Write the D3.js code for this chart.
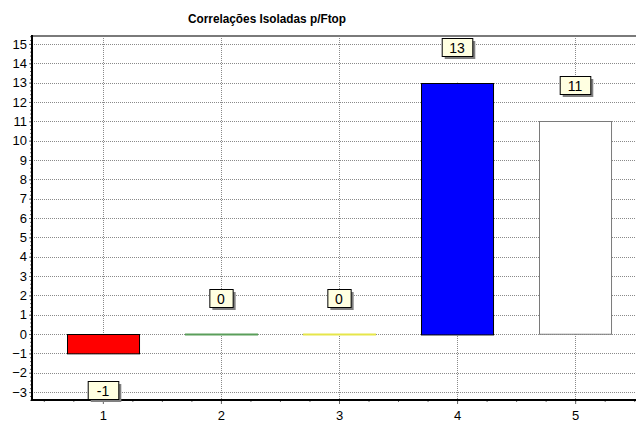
<!DOCTYPE html>
<html>
<head>
<meta charset="utf-8">
<script src="https://cdn.jsdelivr.net/npm/d3@7"></script>
<style>
  body { margin: 0; background: #fff; }
  text { font-family: Arial, "Liberation Sans", sans-serif; }
</style>
</head>
<body>
<script>
// chart data
var categories = [1, 2, 3, 4, 5];
var values = [-1, 0, 0, 13, 11];
var yTicks = d3.range(-3, 16);
var title = "Correlações Isoladas p/Ftop";

// bar styles
var barFill = ["#ff0000", "#5a9e5a", "#e6e64a", "#0000ff", "#ffffff"];
var barStroke = ["#000000", "#5a9e5a", "#e6e64a", "#000000", "#7a7a7a"];

var svgWidth = 636;
var svgHeight = 423;

var plot = { left: 32, top: 36, right: 646, bottom: 400 };

var svg = d3.select("body")
    .append("svg")
    .attr("width", svgWidth)
    .attr("height", svgHeight);

var xScale = d3.scaleLinear()
    .domain([0.4, 5.6])
    .range([plot.left, plot.right]);

var yScale = d3.scaleLinear()
    .domain([-3.41, 15.41])
    .range([plot.bottom, plot.top]);

// title
svg.append("text")
    .attr("x", 267)
    .attr("y", 23)
    .attr("text-anchor", "middle")
    .attr("font-size", 12)
    .attr("font-weight", "bold")
    .attr("textLength", 158)
    .attr("lengthAdjust", "spacingAndGlyphs")
    .text(title);

// gridlines
svg.append("g").selectAll("line")
    .data(yTicks)
    .enter().append("line")
    .attr("x1", plot.left)
    .attr("x2", svgWidth)
    .attr("y1", d => Math.round(yScale(d)) + 0.5)
    .attr("y2", d => Math.round(yScale(d)) + 0.5)
    .attr("stroke", "#8a8a8a")
    .attr("stroke-dasharray", "1,1");

svg.append("g").selectAll("line")
    .data(categories)
    .enter().append("line")
    .attr("x1", d => Math.round(xScale(d)) + 0.5)
    .attr("x2", d => Math.round(xScale(d)) + 0.5)
    .attr("y1", plot.top)
    .attr("y2", plot.bottom)
    .attr("stroke", "#8a8a8a")
    .attr("stroke-dasharray", "1,1");

// top border
svg.append("line")
    .attr("x1", plot.left).attr("x2", svgWidth)
    .attr("y1", plot.top).attr("y2", plot.top)
    .attr("stroke", "#7a7a7a")
    .attr("stroke-width", 2);

var barW = 0.61;

// white leader lines from bar to label
function labelY(v) {
    return v < 0 ? yScale(v) + 37 : yScale(v) - 36;
}

svg.append("g").selectAll("line")
    .data(values)
    .enter().append("line")
    .attr("x1", (d, i) => Math.round(xScale(categories[i])) + 0.5)
    .attr("x2", (d, i) => Math.round(xScale(categories[i])) + 0.5)
    .attr("y1", d => yScale(d))
    .attr("y2", d => labelY(d))
    .attr("stroke", "#ffffff");

var bars = values.map((v, i) => ({ cat: categories[i], v: v, i: i }));

// bars with a height
svg.append("g").selectAll("rect")
    .data(bars.filter(b => b.v !== 0))
    .enter().append("rect")
    .attr("x", b => Math.round(xScale(b.cat - barW / 2)) + 0.5)
    .attr("width", xScale(barW) - xScale(0))
    .attr("y", b => Math.round(yScale(Math.max(0, b.v))) + 0.5)
    .attr("height", b => Math.abs(yScale(b.v) - yScale(0)))
    .attr("fill", b => barFill[b.i])
    .attr("stroke", b => barStroke[b.i]);

// zero bars collapse to a flat line
svg.append("g").selectAll("line")
    .data(bars.filter(b => b.v === 0))
    .enter().append("line")
    .attr("x1", b => Math.round(xScale(b.cat - barW / 2)))
    .attr("x2", b => Math.round(xScale(b.cat + barW / 2)) + 1)
    .attr("y1", b => Math.round(yScale(0)) + 0.5)
    .attr("y2", b => Math.round(yScale(0)) + 0.5)
    .attr("stroke", b => barStroke[b.i])
    .attr("stroke-width", 2);

// axes
var leftAxis = d3.axisLeft(yScale).tickValues(yTicks).tickSize(3).tickPadding(2);
var leftMinor = d3.axisLeft(yScale)
    .tickValues(d3.range(-17, 78).map(d => d / 5))
    .tickSize(2).tickFormat("");

var bottomAxis = d3.axisBottom(xScale).tickValues(categories)
    .tickFormat(d3.format("d")).tickSize(4).tickPadding(7);
var bottomMinor = d3.axisBottom(xScale)
    .tickValues(d3.range(2, 23).map(d => d / 4))
    .tickSize(2).tickFormat("");

svg.append("g")
    .attr("transform", `translate(${plot.left}, 0)`)
    .call(leftAxis);
svg.append("g")
    .attr("transform", `translate(${plot.left}, 0)`)
    .call(leftMinor);

svg.append("g")
    .attr("transform", `translate(0, ${plot.bottom})`)
    .call(bottomAxis);
svg.append("g")
    .attr("transform", `translate(0, ${plot.bottom})`)
    .call(bottomMinor);

svg.selectAll(".domain").remove();
svg.selectAll(".tick line").attr("stroke", "#666");
svg.selectAll(".tick text")
    .attr("font-size", 13)
    .attr("font-family", "Arial, 'Liberation Sans', sans-serif")
    .attr("fill", "#000");

// axis lines
svg.append("line")
    .attr("x1", plot.left).attr("x2", plot.left)
    .attr("y1", plot.top - 1).attr("y2", plot.bottom + 1)
    .attr("stroke", "#000").attr("stroke-width", 2);
svg.append("line")
    .attr("x1", plot.left - 1).attr("x2", svgWidth)
    .attr("y1", plot.bottom).attr("y2", plot.bottom)
    .attr("stroke", "#000").attr("stroke-width", 2);

// value labels
var labels = svg.append("g").selectAll("g")
    .data(values)
    .enter().append("g")
    .attr("transform", (d, i) =>
        `translate(${Math.round(xScale(categories[i]))}, ${Math.round(labelY(d))})`);

labels.each(function (d) {
    var g = d3.select(this);
    var txt = String(d);
    var w = txt.length * 7.3 + 16;
    var h = 18;
    g.append("rect")
        .attr("x", -w / 2 + 3).attr("y", -h / 2 + 3)
        .attr("width", w).attr("height", h)
        .attr("fill", "#808080");
    g.append("rect")
        .attr("x", -w / 2 + 0.5).attr("y", -h / 2 + 0.5)
        .attr("width", w).attr("height", h)
        .attr("fill", "#ffffe1")
        .attr("stroke", "#000");
    g.append("text")
        .attr("x", 0).attr("y", 5.5)
        .attr("text-anchor", "middle")
        .attr("font-size", 14)
        .text(txt);
});
</script>
</body>
</html>
